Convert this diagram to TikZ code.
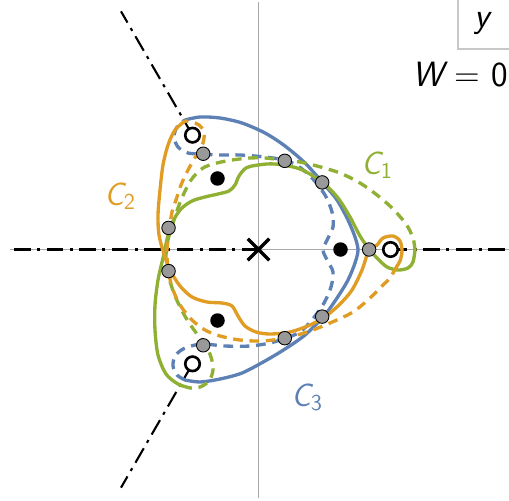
\documentclass[tikz,border=0pt]{standalone}
\usetikzlibrary{calc,shapes.misc}
\definecolor{cblue}{HTML}{5E81B5}
\definecolor{corange}{HTML}{E19C24}
\definecolor{cgreen}{HTML}{8FB032}
\definecolor{axisgray}{HTML}{A8A8A8}
\definecolor{framegray}{HTML}{C8C8C8}
\definecolor{dotgray}{HTML}{999999}
\newcommand{\Rsad}{92.5}
\newcommand{\Rpole}{82}
\newcommand{\Rbranch}{132}
\newcommand{\Rfar}{275}

\begin{document}
\begin{tikzpicture}[x=0.02cm, y=-0.02cm, font=\sffamily,
    sheet/.style={draw=#1, line width=1.9pt, line cap=round, line join=round},
    sheetdash/.style={draw=#1, line width=1.9pt, dash pattern=on 5.5pt off 3.8pt},
    cut/.style={draw=black, line width=1.2pt, dash pattern=on 9.5pt off 3.6pt on 1.8pt off 3.6pt},
    axisline/.style={draw=axisgray, line width=0.6pt},
    saddle/.style={circle, fill=dotgray, draw=black, line width=0.5pt, minimum size=0.27cm, inner sep=0pt},
    pole/.style={circle, fill=black, minimum size=0.29cm, inner sep=0pt},
    branchpt/.style={circle, fill=white, draw=black, line width=1.5pt, minimum size=0.29cm, inner sep=0pt},
    lbl/.style={font=\fontsize{18.5}{22}\sffamily, anchor=base west, inner sep=0pt},
  ]
\useasboundingbox (0,0) rectangle (509,500);

% --- Axes and branch cuts -----------------------------------------------------
\coordinate (o) at (258.5,249.5);
\draw[axisline] (258.5,2) -- (258.5,498);
\draw[axisline] (10,249.5) -- (509,249.5);
\coordinate (lcut) at (10,249.5);
\draw[cut] (o) -- (lcut);
\foreach \a [count=\i] in {0,120,240} {
  \coordinate (b\i) at ($(o)+(\a:\Rbranch)$);
  \coordinate (e\i) at ($(o)+(\a:\Rfar)$);
  \draw[cut] (b\i) -- (e\i);
}

% --- C3 (blue) ----------------------------------------------------------------
\draw[sheet=cblue] plot[smooth, tension=0.5] coordinates {
  (185,120) (200,117) (220,118) (242,123) (265,133) (285,146) (305,163) (322,182)
  (337,200) (348,220) (355,237) (358,250) (355,263) (348,280) (337,298) (324,316)
  (305,335) (285,349) (265,361) (242,373) (220,379) (200,382) (185,380)};
\draw[sheetdash=cblue] plot[smooth, tension=0.5] coordinates {
  (185,380) (177,375) (173,366) (175,356) (183,349) (195,345) (205,344) (225,346)
  (250,346) (270,343) (286,338) (300,332) (312,320) (324,303) (331,287) (333,272)
  (327,260) (323,250) (327,240) (333,227) (332,212) (325,195) (312,178) (298,166)
  (284,160) (265,157) (240,155) (218,155) (203,154) (188,153) (178,147) (174,137)
  (177,127) (185,120)};

% --- C1 (green) ---------------------------------------------------------------
\draw[sheet=cgreen] plot[smooth, tension=0.5] coordinates {
  (190,388) (178,384) (166,374) (158,355) (155,330) (155,305) (158,280) (163,258)
  (170,228) (180,210) (192,201) (205,197) (218,194) (229,191) (235,185) (239,176)
  (246,168) (258,165) (275,164) (300,169) (322,182) (338,198) (350,217) (360,236)
  (369,249) (377,258) (387,267) (398,270) (408,268) (413,262) (415,250)};
\draw[sheetdash=cgreen] plot[smooth, tension=0.5] coordinates {
  (415,250) (413,238) (406,224) (392,208) (377,195) (360,183) (340,173) (317,166)
  (300,162) (284,160) (265,158) (250,158) (232,160) (217,163) (203,168) (191,180)
  (181,200) (174,220) (168,240) (166,256) (168,274) (175,296) (186,318) (197,334)
  (205,344) (211,357) (213,370) (209,381) (200,387) (190,388)};

% --- C2 (orange) --------------------------------------------------------------
\draw[sheet=corange] plot[smooth, tension=0.5] coordinates {
  (185,121) (175,130) (168,145) (163,165) (160,190) (158,215) (159,235) (164,254)
  (170,270) (180,286) (192,297) (207,302) (222,303) (232,306) (238,316) (245,326)
  (256,332) (270,334) (290,332) (310,325) (326,316) (340,304) (352,290) (362,270)
  (369,250) (377,245) (383,238) (393,236) (400,241) (402,251) (400,261) (397,266)};
\draw[sheetdash=corange] plot[smooth, tension=0.5] coordinates {
  (397,266) (390,278) (383,285) (370,298) (353,312) (330,323) (310,331) (286,338)
  (262,341) (240,340) (220,336) (205,330) (192,320) (180,305) (172,287) (168,268)
  (167,250) (169,232) (172,212) (176,200) (181,185) (188,170) (196,156) (203,143)
  (204,132) (199,125) (192,122) (185,121)};

% --- Points ---------------------------------------------------------------------
\node[cross out, draw=black, line width=2pt, minimum size=0.36cm, inner sep=0pt] (cross) at (o) {};
\foreach \a [count=\i] in {0,120,240} {
  \node[pole] (p\i) at ($(o)+(\a:\Rpole)$) {};
  \node[branchpt] (bp\i) at (b\i) {};
  \node[saddle] (q\i) at ($(o)+(\a:110.6)$) {};
}
\foreach \a [count=\i] in {46.5,73.5,166.5,193.5,286.5,313.5} {
  \node[saddle] (s\i) at ($(o)+(\a:\Rsad)$) {};
}

% --- Labels ---------------------------------------------------------------------
\node[lbl, text=cgreen] (c1) at (361,174) {\slshape C\textsubscript{\upshape 1}};
\node[lbl, text=corange] (c2) at (104,205) {\slshape C\textsubscript{\upshape 2}};
\node[lbl, text=cblue] (c3) at (291,406) {\slshape C\textsubscript{\upshape 3}};
\draw[draw=framegray, line width=0.6pt] (458,0) -- (458,49) -- (509,49);
\node[font=\fontsize{20}{24}\sffamily\slshape, inner sep=0pt] (ylabel) at (482,24) {y};
\node[font=\fontsize{20}{24}\sffamily, anchor=east, inner sep=0pt] (wlabel) at (508,75) {{\slshape W} = 0};
\end{tikzpicture}
\end{document}
